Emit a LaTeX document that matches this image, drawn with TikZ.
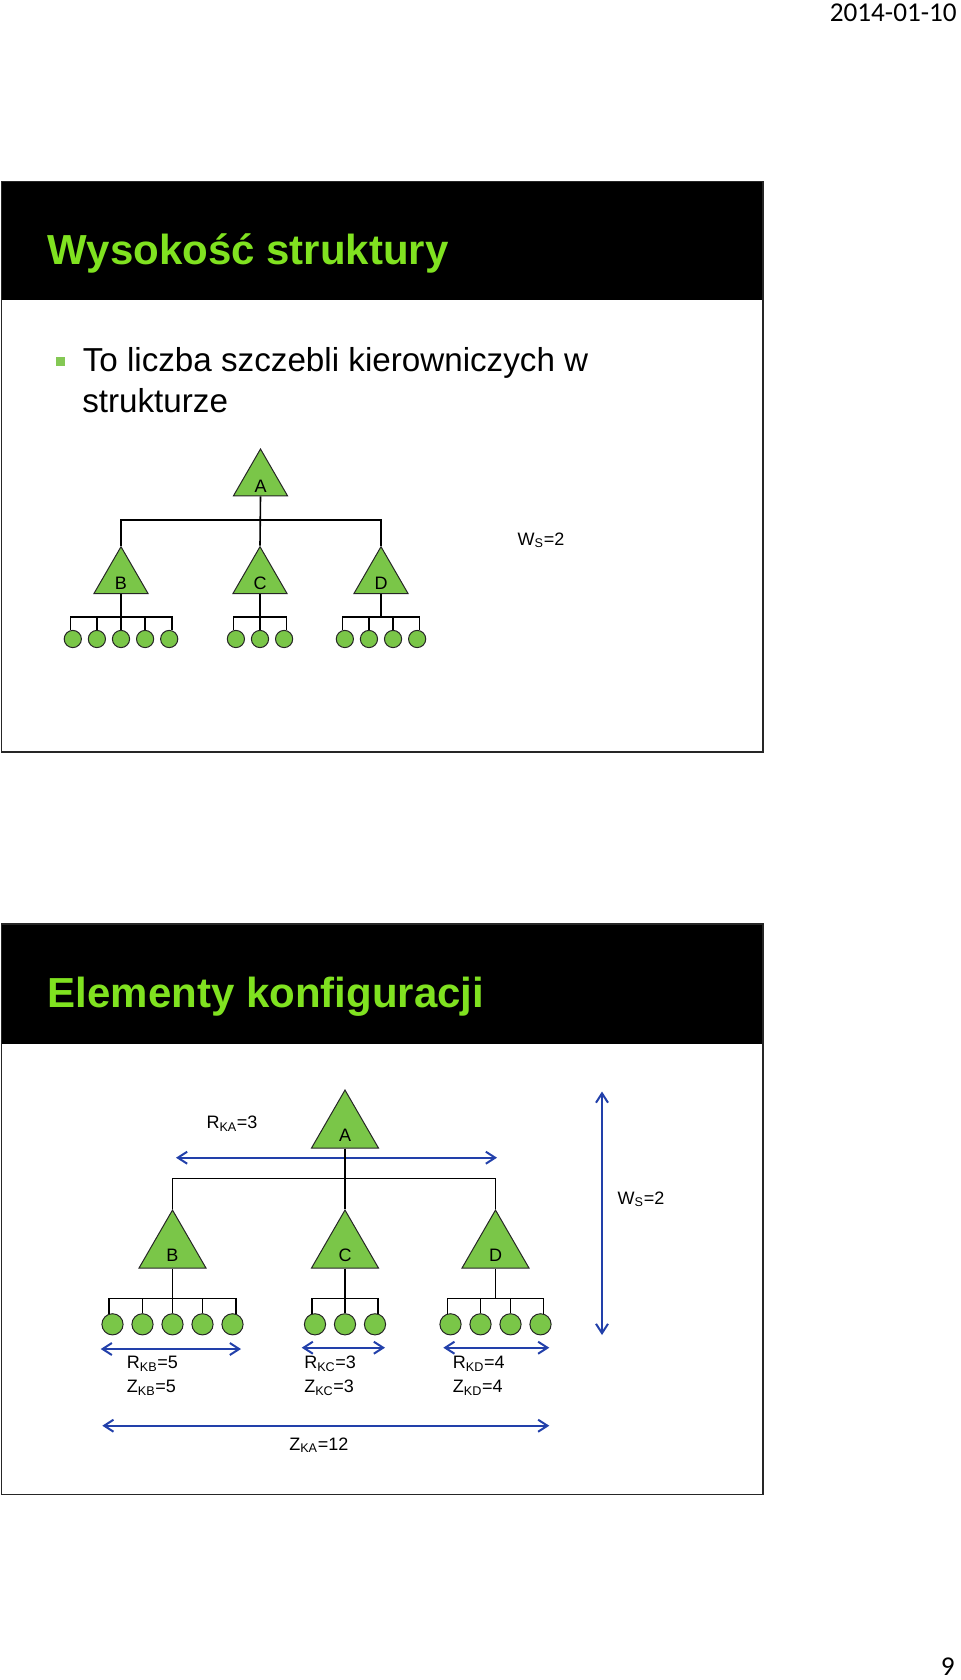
\documentclass[tikz,border=0pt]{standalone}
\usepackage{fontspec}
\setmainfont{Liberation Sans}
\newfontfamily\datefont{Carlito}
\usetikzlibrary{arrows.meta,shapes.geometric,calc}
\definecolor{titlegreen}{RGB}{128,226,32}
\definecolor{nodegreen}{RGB}{122,198,72}
\definecolor{bulletgreen}{RGB}{132,200,84}
\definecolor{arrowblue}{RGB}{34,64,170}
% #1 prefix, #2 parent node, #3 parent x, #4 count, #5 spacing, #6 bar y, #7 circle y, #8 leaf style, #9 end offset
\newcommand{\leafrow}[9]{%
  \coordinate (#1bar) at (#3,#6);
  \draw[conn] (#2.south) -- (#1bar);
  \foreach \i in {1,...,#4} \node[#8] (#1\i) at ({#3+#5*(\i-(#4+1)/2)},#7) {};
  \draw[conn] ($(#11.north)+(-#9,0.5)$) -- ($(#11.north|-#1bar)+(-#9,0)$)
     -- ($(#1#4.north|-#1bar)+(#9,0)$) -- ($(#1#4.north)+(#9,0.5)$);
  \pgfmathtruncatemacro\lastmid{#4-1}
  \foreach \i in {2,...,\lastmid} \draw[conn] (#1\i.north|-#1bar) -- (#1\i.north);
}
\begin{document}
\begin{tikzpicture}[x=0.75pt,y=-0.75pt,
  slidebox/.style={draw=black!85,line width=1.1pt},
  headerfill/.style={fill=black},
  titletext/.style={anchor=base west,inner sep=0pt,text=titlegreen,font=\fontsize{31.5}{36}\selectfont\bfseries},
  bodytext/.style={anchor=base west,inner sep=0pt,font=\fontsize{24.9}{30}\selectfont},
  bulletsq/.style={rectangle,fill=bulletgreen,inner sep=0pt,minimum size=7.1pt},
  tri/.style={regular polygon,regular polygon sides=3,fill=nodegreen,draw=black!85,line width=0.75pt,inner sep=0pt},
  triS/.style={tri,minimum size=46.8pt},
  triL/.style={tri,minimum size=58pt},
  leafS/.style={circle,fill=nodegreen,draw=black!85,line width=0.75pt,inner sep=0pt,minimum size=12.9pt},
  leafL/.style={circle,fill=nodegreen,draw=black!85,line width=0.75pt,inner sep=0pt,minimum size=15.9pt},
  conn/.style={draw=black,line width=1.2pt},
  dimline/.style={draw=arrowblue,line width=1.5pt,
     {Straight Barb[length=7pt,width=9pt]}-{Straight Barb[length=7pt,width=9pt]}},
  lbl/.style={inner sep=0pt,font=\fontsize{13.5}{16}\selectfont},
  pagetext/.style={anchor=base east,inner sep=0pt,font=\datefont\fontsize{20.4}{24}\selectfont}
]
\useasboundingbox (0,0) rectangle (960,1680);

% page furniture
\node[pagetext] (date) at (957,22) {2014-01-10};
\node[pagetext] (pagenum) at (955,1675.5) {9};

% ---------------- slide 1 ----------------
\fill[headerfill] (1.5,181.5) rectangle (763,300);
\draw[slidebox] (1.5,181.5) rectangle (763,752);
\node[titletext] (title1) at (47.5,264) {Wysokość struktury};
\node[bulletsq] (bul) at (60.75,361.75) {};
\node[bodytext] (line1) at (82.5,371.5) {To liczba szczebli kierowniczych w};
\node[bodytext] (line2) at (82,412) {strukturze};

\node[triS] (A1) at (260.5,480.2) {};
\node[triS] (B1) at (121,577.9) {};
\node[triS] (C1) at (260,577.9) {};
\node[triS] (D1) at (381,577.9) {};
\node[lbl,anchor=base] (A1t) at ($(A1.south)+(0,-4)$) {A};
\node[lbl,anchor=base] (B1t) at ($(B1.south)+(0,-5)$) {B};
\node[lbl,anchor=base] (C1t) at ($(C1.south)+(0,-5)$) {C};
\node[lbl,anchor=base] (D1t) at ($(D1.south)+(0,-5)$) {D};
\coordinate (bar1) at (260.5,520);
\draw[conn] (A1.south) -- (C1.north);
\draw[conn] (B1.north) -- (B1.north|-bar1) -- (D1.north|-bar1) -- (D1.north);
\leafrow{pb}{B1}{121}{5}{24.1}{616.7}{639}{leafS}{2.5}
\leafrow{pc}{C1}{260}{3}{24.1}{616.7}{639}{leafS}{2.5}
\leafrow{pd}{D1}{381}{4}{24.1}{616.7}{639}{leafS}{2.5}
\node[lbl,anchor=base] (ws1) at (541,545) {W\textsubscript{S}=2};

% ---------------- slide 2 ----------------
\fill[headerfill] (1.5,924) rectangle (763,1043.5);
\draw[slidebox] (1.5,924) rectangle (763,1494.5);
\node[titletext] (title2) at (47.5,1007) {Elementy konfiguracji};

% dimension arrows
\coordinate (rka1) at (176,1157.7);
\coordinate (rka2) at (497,1157.7);
\draw[dimline] (rka1) -- (rka2);
\coordinate (ws2a) at (602,1091.5);
\coordinate (ws2b) at (602,1335);
\draw[dimline] (ws2a) -- (ws2b);
\coordinate (rkb1) at (100.7,1349);
\coordinate (rkb2) at (241,1349);
\draw[dimline] (rkb1) -- (rkb2);
\coordinate (rkc1) at (301.7,1347.7);
\coordinate (rkc2) at (385,1347.7);
\draw[dimline] (rkc1) -- (rkc2);
\coordinate (rkd1) at (443.3,1347.7);
\coordinate (rkd2) at (549.3,1347.7);
\draw[dimline] (rkd1) -- (rkd2);
\coordinate (zka1) at (102.3,1425.7);
\coordinate (zka2) at (549.3,1425.7);
\draw[dimline] (zka1) -- (zka2);

\node[triL] (A2) at (345,1128.7) {};
\node[triL] (B2) at (172.5,1248.7) {};
\node[triL] (C2) at (345,1248.7) {};
\node[triL] (D2) at (495.5,1248.7) {};
\node[lbl,anchor=base] (A2t) at ($(A2.south)+(0,-7)$) {A};
\node[lbl,anchor=base] (B2t) at ($(B2.south)+(0,-7)$) {B};
\node[lbl,anchor=base] (C2t) at ($(C2.south)+(0,-7)$) {C};
\node[lbl,anchor=base] (D2t) at ($(D2.south)+(0,-7)$) {D};
\coordinate (bar2) at (345,1178.5);
\draw[conn] (A2.south) -- (C2.north);
\draw[conn] (B2.north) -- (B2.north|-bar2) -- (D2.north|-bar2) -- (D2.north);
\leafrow{qb}{B2}{172.5}{5}{30}{1298.3}{1324.3}{leafL}{3.5}
\leafrow{qc}{C2}{345}{3}{30}{1298.3}{1324.3}{leafL}{3}
\leafrow{qd}{D2}{495.5}{4}{30}{1298.3}{1324.3}{leafL}{3}

\node[lbl,anchor=base] (rkat) at (232,1128.3) {R\textsubscript{KA}=3};
\node[lbl,anchor=base] (ws2t) at (641,1204) {W\textsubscript{S}=2};
\node[lbl,anchor=base west] (rkbt) at (126.7,1368.3) {R\textsubscript{KB}=5};
\node[lbl,anchor=base west] (zkbt) at (126.7,1392.5) {Z\textsubscript{KB}=5};
\node[lbl,anchor=base west] (rkct) at (304,1368.3) {R\textsubscript{KC}=3};
\node[lbl,anchor=base west] (zkct) at (304,1392.5) {Z\textsubscript{KC}=3};
\node[lbl,anchor=base west] (rkdt) at (452.7,1368.3) {R\textsubscript{KD}=4};
\node[lbl,anchor=base west] (zkdt) at (452.7,1392.5) {Z\textsubscript{KD}=4};
\node[lbl,anchor=base] (zkat) at (318.8,1450) {Z\textsubscript{KA}=12};
\end{tikzpicture}
\end{document}
